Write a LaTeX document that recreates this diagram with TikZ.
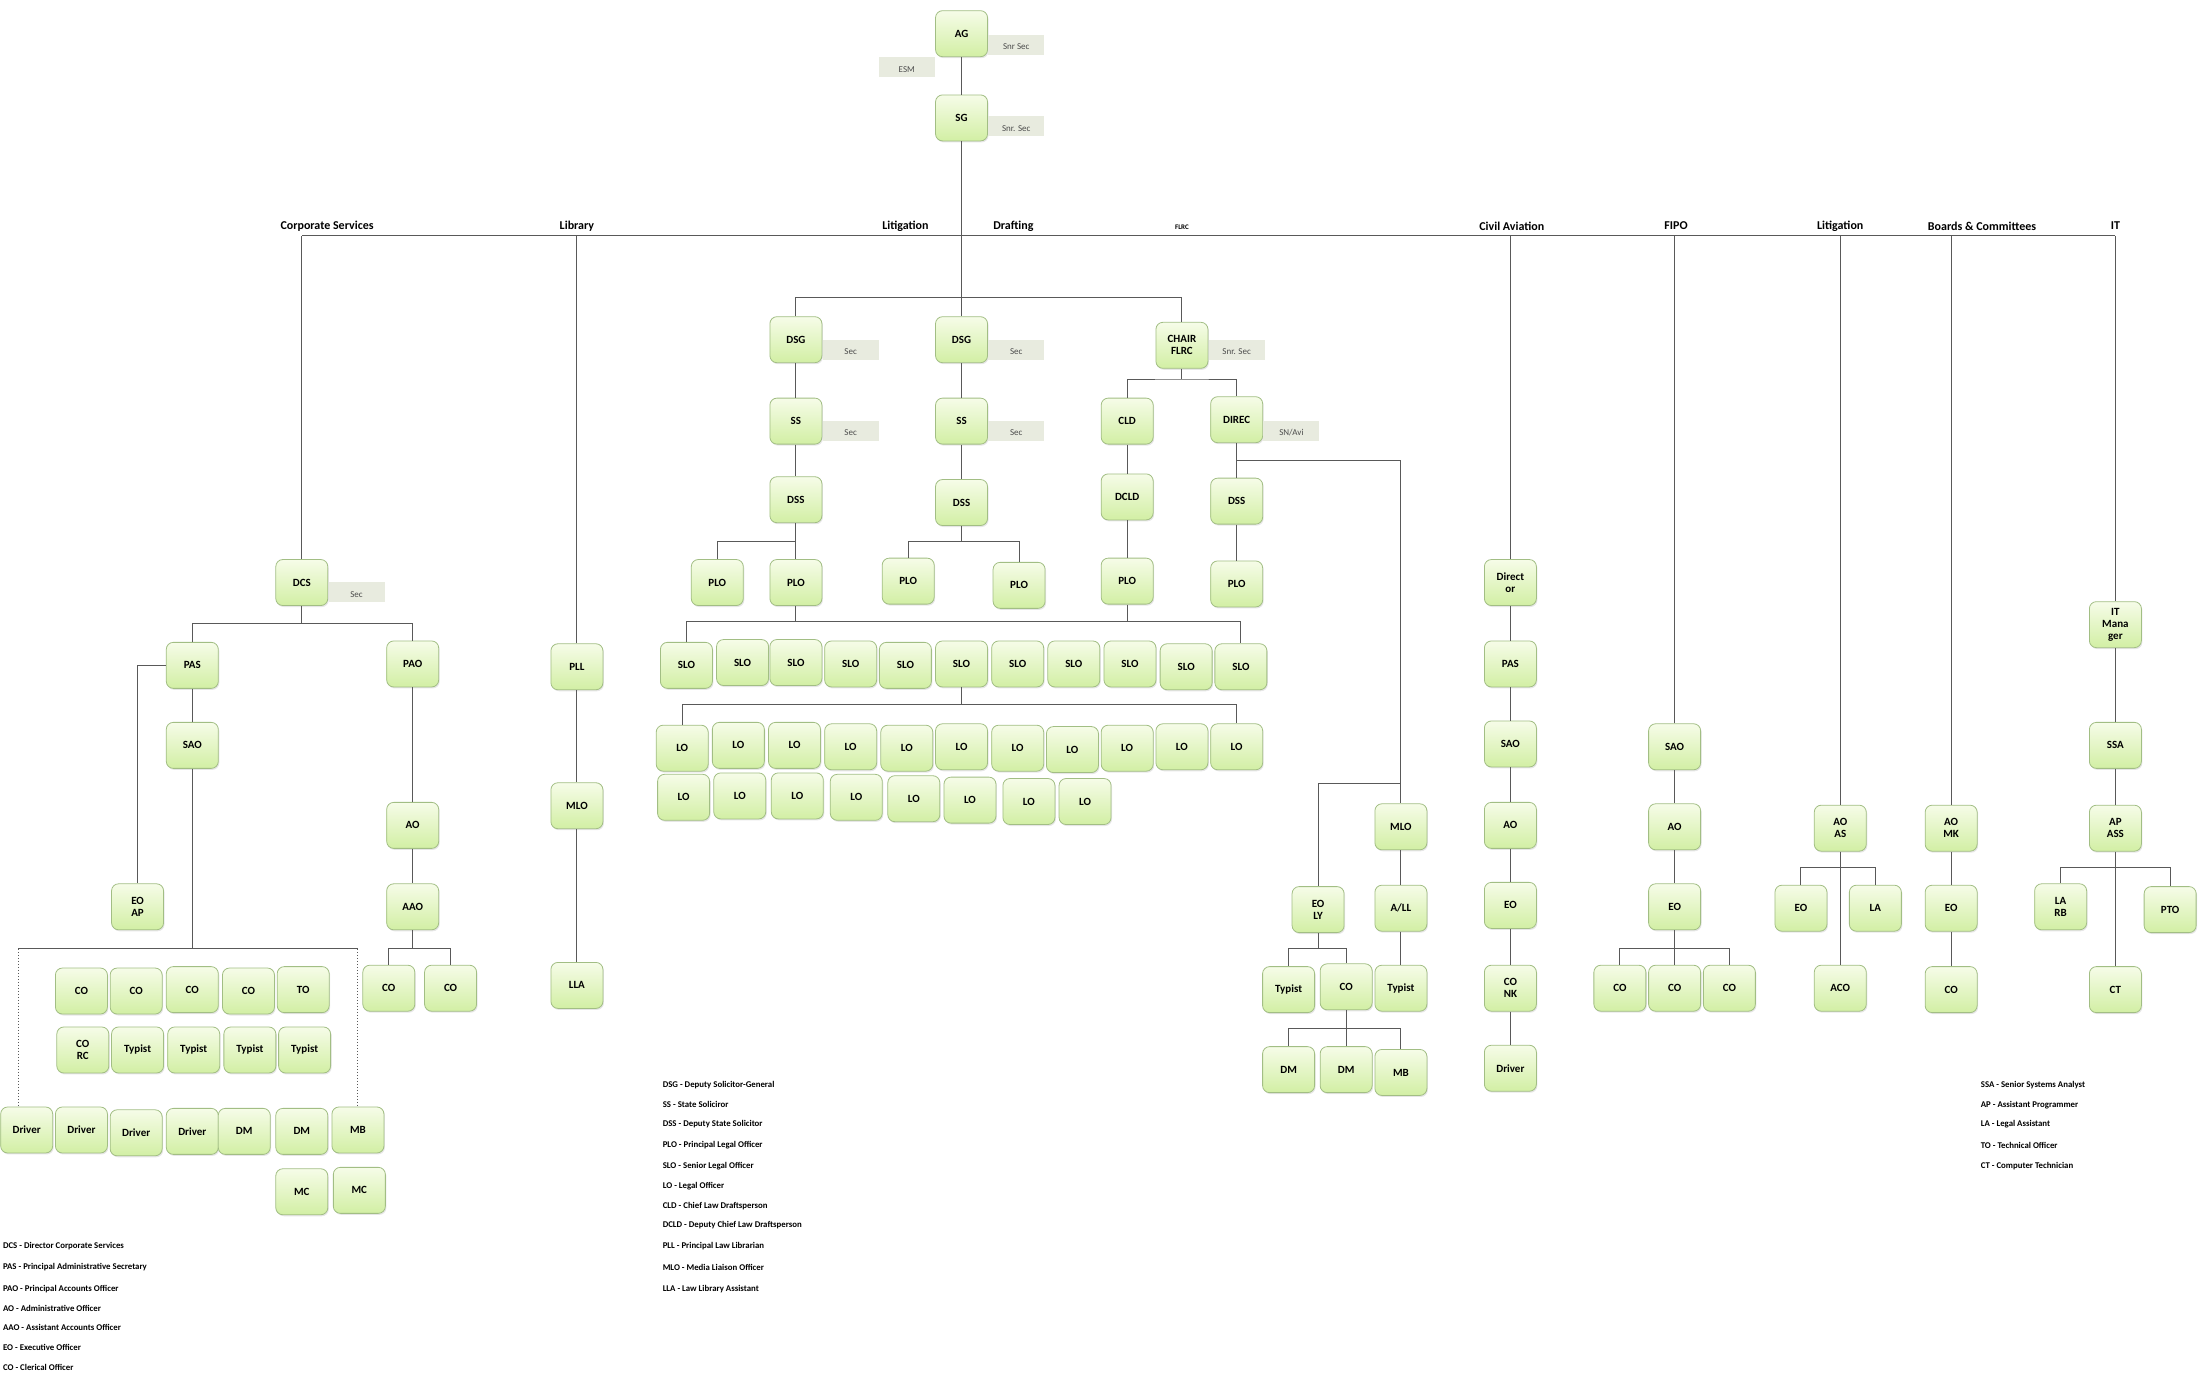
\documentclass[tikz,border=0pt]{standalone}
\usepackage{fontspec}
\setmainfont{Carlito}
\usetikzlibrary{shadows}

\definecolor{boxtop}{HTML}{F6FCE8}
\definecolor{boxbot}{HTML}{D2EFA4}
\definecolor{boxline}{HTML}{A2BE84}
\definecolor{secfill}{HTML}{E8EBDF}
\definecolor{linkgrey}{HTML}{595959}

\begin{document}
\begin{tikzpicture}[x=1.4037pt,y=-1.4037pt,
   post/.style={draw=boxline, line width=0.8pt, rounded corners=7pt,
      top color=boxtop, bottom color=boxbot, minimum width=52pt,
      minimum height=46pt, inner sep=1pt, align=center,
      font=\bfseries\fontsize{11}{12}\selectfont,
      drop shadow={opacity=0.2, shadow xshift=1pt, shadow yshift=-1.5pt}},
   sec/.style={fill=secfill, minimum width=56pt, minimum height=20pt,
      inner sep=0pt, text height=10pt, text depth=0pt,
      text=black!70, font=\fontsize{9}{10}\selectfont},
   head/.style={font=\bfseries\fontsize{12}{14}\selectfont},
   keyline/.style={anchor=west, inner sep=0pt,
      font=\bfseries\fontsize{8.8}{10}\selectfont},
   link/.style={draw=linkgrey, line width=1pt}]
   \useasboundingbox (0,0) rectangle (1568,980);

   % top
   \node[post] (ag) at (685,24) {AG};
   \node[sec] (agsec) at (724,32) {Snr Sec};
   \node[sec] (esm) at (646,48) {ESM};
   \node[post] (sg) at (685,84) {SG};
   \node[sec] (sgsec) at (724,90) {Snr. Sec};
   \draw[link] (ag) -- (sg);

   % departments
   \node[head] (hcorp) at (233,161) {Corporate Services};
   \node[head] (hlib) at (411,161) {Library};
   \node[head] (hlit) at (645,161) {Litigation};
   \node[head] (hdraft) at (722,161) {Drafting};
   \node[font=\bfseries\fontsize{7}{8}\selectfont] (hflrc) at (842,162) {FLRC};
   \node[head] (hciv) at (1077,161) {Civil Aviation};
   \node[head] (hfipo) at (1194,161) {FIPO};
   \node[head] (hlitb) at (1311,161) {Litigation};
   \node[head] (hboard) at (1412,161) {Boards \& Committees};
   \node[head] (hit) at (1507,161) {IT};
   \coordinate (deptW) at (215,168);
   \coordinate (deptE) at (1507,168);
   \draw[link] (deptW) -- (deptE);

   % litigation / drafting
   \node[post] (dsgA) at (567,242) {DSG};
   \node[sec] (dsgAsec) at (606,249) {Sec};
   \node[post] (ssA) at (567,300) {SS};
   \node[sec] (ssAsec) at (606,307) {Sec};
   \node[post] (dssA) at (567,356) {DSS};
   \node[post] (ploA1) at (511,415) {PLO};
   \node[post] (ploA2) at (567,415) {PLO};
   \node[post] (dsgB) at (685,242) {DSG};
   \node[sec] (dsgBsec) at (724,249) {Sec};
   \node[post] (ssB) at (685,300) {SS};
   \node[sec] (ssBsec) at (724,307) {Sec};
   \node[post] (dssB) at (685,358) {DSS};
   \node[post] (ploB1) at (647,414) {PLO};
   \node[post] (ploB2) at (726,417) {PLO};
   \node[post] (chair) at (842,246) {CHAIR\\FLRC};
   \node[sec] (chairsec) at (881,249) {Snr. Sec};
   \node[post] (cld) at (803,300) {CLD};
   \node[post] (direc) at (881,299) {DIREC};
   \node[sec] (direcsec) at (920,307) {SN/Avi};
   \node[post] (dcld) at (803,354) {DCLD};
   \node[post] (dssC) at (881,357) {DSS};
   \node[post] (ploC) at (803,414) {PLO};
   \node[post] (ploD) at (881,416) {PLO};
   \coordinate (barDSG) at (685,212);
   \coordinate (barA) at (567,386);
   \coordinate (barB) at (685,386);
   \coordinate (barFLRC) at (842,270);
   \draw[link] (sg) -- (dsgB);
   \draw[link] (dsgA.north) |- (barDSG) -| (chair.north);
   \draw[link] (dsgA) -- (ssA);
   \draw[link] (ssA) -- (dssA);
   \draw[link] (dssA) -- (ploA2);
   \draw[link] (barA) -| (ploA1.north);
   \draw[link] (dsgB) -- (ssB);
   \draw[link] (ssB) -- (dssB);
   \draw[link] (dssB.south) -- (barB);
   \draw[link] (ploB1.north) |- (barB) -| (ploB2.north);
   \draw[link] (chair.south) -- (barFLRC);
   \draw[link] (cld.north) |- (barFLRC) -| (direc.north);
   \draw[link] (cld) -- (dcld);
   \draw[link] (dcld) -- (ploC);
   \draw[link] (direc) -- (dssC);
   \draw[link] (dssC) -- (ploD);

   % SLO and LO
   \node[post] (slo1) at (489,474) {SLO};
   \node[post] (slo2) at (529,472) {SLO};
   \node[post] (slo3) at (567,472) {SLO};
   \node[post] (slo4) at (606,473) {SLO};
   \node[post] (slo5) at (645,474) {SLO};
   \node[post] (slo6) at (685,473) {SLO};
   \node[post] (slo7) at (725,473) {SLO};
   \node[post] (slo8) at (765,473) {SLO};
   \node[post] (slo9) at (805,473) {SLO};
   \node[post] (slo10) at (845,475) {SLO};
   \node[post] (slo11) at (884,475) {SLO};
   \node[post] (lo1) at (486,533) {LO};
   \node[post] (lo2) at (526,531) {LO};
   \node[post] (lo3) at (566,531) {LO};
   \node[post] (lo4) at (606,532) {LO};
   \node[post] (lo5) at (646,533) {LO};
   \node[post] (lo6) at (685,532) {LO};
   \node[post] (lo7) at (725,533) {LO};
   \node[post] (lo8) at (764,534) {LO};
   \node[post] (lo9) at (803,533) {LO};
   \node[post] (lo10) at (842,532) {LO};
   \node[post] (lo11) at (881,532) {LO};
   \node[post] (lo12) at (487,568) {LO};
   \node[post] (lo13) at (527,567) {LO};
   \node[post] (lo14) at (568,567) {LO};
   \node[post] (lo15) at (610,568) {LO};
   \node[post] (lo16) at (651,569) {LO};
   \node[post] (lo17) at (691,570) {LO};
   \node[post] (lo18) at (733,571) {LO};
   \node[post] (lo19) at (773,571) {LO};
   \coordinate (barSLO) at (685,443);
   \coordinate (barLO) at (685,502);
   \draw[link] (ploA2.south) -- (ploA2.south |- barSLO);
   \draw[link] (ploC.south) -- (ploC.south |- barSLO);
   \draw[link] (slo1.north) |- (barSLO) -| (slo11.north);
   \draw[link] (slo6.south) -- (barLO);
   \draw[link] (lo1.north) |- (barLO) -| (lo11.north);

   % FLRC directorate
   \node[post] (mloD) at (998,589) {MLO};
   \node[post] (eoly) at (939,648) {EO\\LY};
   \node[post] (allD) at (998,647) {A/LL};
   \node[post] (typD1) at (918,705) {Typist};
   \node[post] (coD) at (959,703) {CO};
   \node[post] (typD2) at (998,704) {Typist};
   \node[post] (dmD1) at (918,762) {DM};
   \node[post] (dmD2) at (959,762) {DM};
   \node[post] (mbD) at (998,764) {MB};
   \coordinate (barDir) at (881,328);
   \coordinate (barLY) at (998,558);
   \coordinate (barTyp) at (939,676);
   \coordinate (barDM) at (959,733);
   \draw[link] (barDir) -| (mloD.north);
   \draw[link] (barLY) -| (eoly.north);
   \draw[link] (mloD) -- (allD);
   \draw[link] (allD) -- (typD2);
   \draw[link] (eoly.south) -- (barTyp);
   \draw[link] (typD1.north) |- (barTyp) -| (coD.north);
   \draw[link] (coD) -- (dmD2);
   \draw[link] (dmD1.north) |- (barDM) -| (mbD.north);

   % corporate services
   \node[post] (dcs) at (215,415) {DCS};
   \node[sec] (dcssec) at (254,422) {Sec};
   \node[post] (pas) at (137,474) {PAS};
   \node[post] (pao) at (294,473) {PAO};
   \node[post] (sao1) at (137,531) {SAO};
   \node[post] (eoap) at (98,646) {EO\\AP};
   \node[post] (ao1) at (294,588) {AO};
   \node[post] (aao1) at (294,646) {AAO};
   \node[post] (co1) at (58,706) {CO};
   \node[post] (co2) at (97,706) {CO};
   \node[post] (co3) at (137,705) {CO};
   \node[post] (co4) at (177,706) {CO};
   \node[post] (to1) at (216,705) {TO};
   \node[post] (corc) at (59,748) {CO\\RC};
   \node[post] (typ1) at (98,748) {Typist};
   \node[post] (typ2) at (138,748) {Typist};
   \node[post] (typ3) at (178,748) {Typist};
   \node[post] (typ4) at (217,748) {Typist};
   \node[post] (drv1) at (19,805) {Driver};
   \node[post] (drv2) at (58,805) {Driver};
   \node[post] (drv3) at (97,807) {Driver};
   \node[post] (drv4) at (137,806) {Driver};
   \node[post] (dm1) at (174,806) {DM};
   \node[post] (dm2) at (215,806) {DM};
   \node[post] (mb1) at (255,805) {MB};
   \node[post] (mc1) at (215,849) {MC};
   \node[post] (mc2) at (256,848) {MC};
   \node[post] (co6) at (277,704) {CO};
   \node[post] (co7) at (321,704) {CO};
   \coordinate (barDCS) at (215,444);
   \coordinate (barCS) at (137,676);
   \coordinate (dotW) at (13,676);
   \coordinate (dotE) at (255,676);
   \coordinate (barAAO) at (294,676);
   \draw[link] (dcs.north) -- (dcs.north |- deptW);
   \draw[link] (dcs.south) -- (barDCS);
   \draw[link] (pas.north) |- (barDCS) -| (pao.north);
   \draw[link] (pas.west) -| (eoap.north);
   \draw[link] (pas) -- (sao1);
   \draw[link] (sao1.south) -- (barCS);
   \draw[link] (dotW) -- (dotE);
   \draw[link, dotted] (dotW) -- (dotW |- drv1.north);
   \draw[link, dotted] (dotE) -- (mb1.north);
   \draw[link] (pao) -- (ao1);
   \draw[link] (ao1) -- (aao1);
   \draw[link] (aao1.south) -- (barAAO);
   \draw[link] (co6.north) |- (barAAO) -| (co7.north);

   % library
   \node[post] (pll) at (411,475) {PLL};
   \node[post] (mloL) at (411,574) {MLO};
   \node[post] (lla) at (411,702) {LLA};
   \draw[link] (pll.north) -- (pll.north |- deptW);
   \draw[link] (pll) -- (mloL);
   \draw[link] (mloL) -- (lla);

   % civil aviation
   \node[post] (director) at (1076,415) {Direct\\or};
   \node[post] (pasC) at (1076,473) {PAS};
   \node[post] (saoC) at (1076,530) {SAO};
   \node[post] (aoC) at (1076,588) {AO};
   \node[post] (eoC) at (1076,645) {EO};
   \node[post] (conk) at (1076,704) {CO\\NK};
   \node[post] (drvC) at (1076,761) {Driver};
   \draw[link] (director.north) -- (director.north |- deptW);
   \draw[link] (director) -- (pasC);
   \draw[link] (pasC) -- (saoC);
   \draw[link] (saoC) -- (aoC);
   \draw[link] (aoC) -- (eoC);
   \draw[link] (eoC) -- (conk);
   \draw[link] (conk) -- (drvC);

   % FIPO
   \node[post] (saoF) at (1193,532) {SAO};
   \node[post] (aoF) at (1193,589) {AO};
   \node[post] (eoF) at (1193,646) {EO};
   \node[post] (coF1) at (1154,704) {CO};
   \node[post] (coF2) at (1193,704) {CO};
   \node[post] (coF3) at (1232,704) {CO};
   \coordinate (barFIPO) at (1193,676);
   \draw[link] (saoF.north) -- (saoF.north |- deptW);
   \draw[link] (saoF) -- (aoF);
   \draw[link] (aoF) -- (eoF);
   \draw[link] (eoF) -- (coF2);
   \draw[link] (coF1.north) |- (barFIPO) -| (coF3.north);

   % litigation (right)
   \node[post] (aoas) at (1311,590) {AO\\AS};
   \node[post] (eoL) at (1283,647) {EO};
   \node[post] (laL) at (1336,647) {LA};
   \node[post] (aco) at (1311,704) {ACO};
   \coordinate (barLit) at (1311,618);
   \draw[link] (aoas.north) -- (aoas.north |- deptW);
   \draw[link] (aoas) -- (aco);
   \draw[link] (eoL.north) |- (barLit) -| (laL.north);

   % boards and committees
   \node[post] (aomk) at (1390,590) {AO\\MK};
   \node[post] (eoB) at (1390,647) {EO};
   \node[post] (coB) at (1390,705) {CO};
   \draw[link] (aomk.north) -- (aomk.north |- deptW);
   \draw[link] (aomk) -- (eoB);
   \draw[link] (eoB) -- (coB);

   % IT
   \node[post] (itman) at (1507,445) {IT\\Mana\\ger};
   \node[post] (ssa) at (1507,531) {SSA};
   \node[post] (apass) at (1507,590) {AP\\ASS};
   \node[post] (larb) at (1468,646) {LA\\RB};
   \node[post] (pto) at (1546,648) {PTO};
   \node[post] (ct) at (1507,705) {CT};
   \coordinate (barIT) at (1507,618);
   \draw[link] (deptE) -- (itman.north);
   \draw[link] (itman) -- (ssa);
   \draw[link] (ssa) -- (apass);
   \draw[link] (apass) -- (ct);
   \draw[link] (larb.north) |- (barIT) -| (pto.north);

   % abbreviations
   \node[keyline] (kdcs) at (2,888) {DCS - Director Corporate Services};
   \node[keyline] (kpas) at (2,903) {PAS - Principal Administrative Secretary};
   \node[keyline] (kpao) at (2,918) {PAO - Principal Accounts Officer};
   \node[keyline] (kao) at (2,932) {AO - Administrative Officer};
   \node[keyline] (kaao) at (2,946) {AAO - Assistant Accounts Officer};
   \node[keyline] (keo) at (2,960) {EO - Executive Officer};
   \node[keyline] (kco) at (2,974) {CO - Clerical Officer};
   \node[keyline] (kdsg) at (472,773) {DSG - Deputy Solicitor-General};
   \node[keyline] (kss) at (472,787) {SS - State Soliciror};
   \node[keyline] (kdss) at (472,801) {DSS - Deputy State Solicitor};
   \node[keyline] (kplo) at (472,816) {PLO - Principal Legal Officer};
   \node[keyline] (kslo) at (472,831) {SLO - Senior Legal Officer};
   \node[keyline] (klo) at (472,845) {LO - Legal Officer};
   \node[keyline] (kcld) at (472,859) {CLD - Chief Law Draftsperson};
   \node[keyline] (kdcld) at (472,873) {DCLD - Deputy Chief Law Draftsperson};
   \node[keyline] (kpll) at (472,888) {PLL - Principal Law Librarian};
   \node[keyline] (kmlo) at (472,903) {MLO - Media Liaison Officer};
   \node[keyline] (klla) at (472,918) {LLA - Law Library Assistant};
   \node[keyline] (kssa) at (1411,773) {SSA - Senior Systems Analyst};
   \node[keyline] (kap) at (1411,787) {AP - Assistant Programmer};
   \node[keyline] (kla) at (1411,801) {LA - Legal Assistant};
   \node[keyline] (kto) at (1411,816) {TO - Technical Officer};
   \node[keyline] (kct) at (1411,831) {CT - Computer Technician};
\end{tikzpicture}
\end{document}
